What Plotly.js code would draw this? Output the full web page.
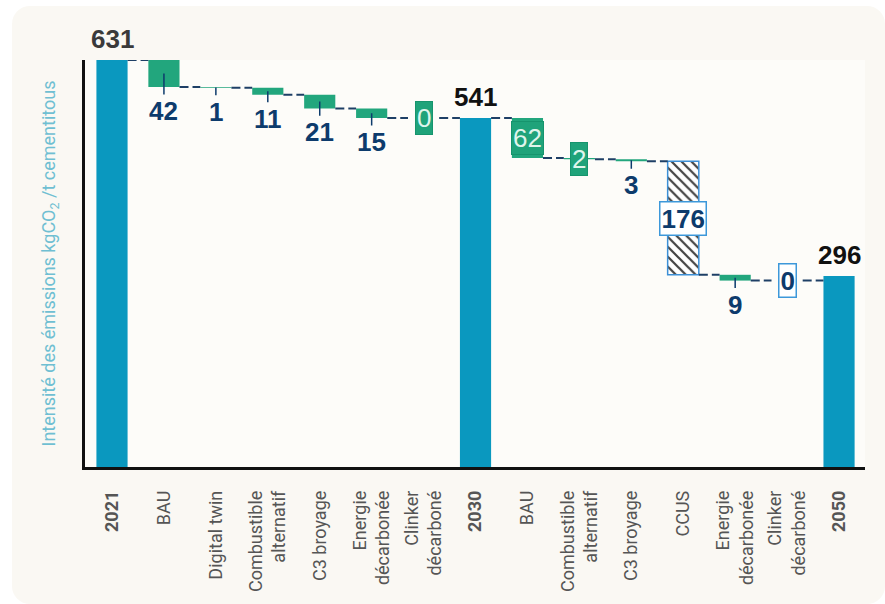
<!DOCTYPE html>
<html lang="fr">
<head>
    <meta charset="UTF-8">
    <title>Intensité des émissions</title>
    <script src="https://cdn.plot.ly/plotly-3.0.1.min.js"></script>
    <style>
        body {
            margin: 0;
            background-color: #ffffff;
        }
        #plot {
            position: absolute;
            left: 12px;
            top: 6px;
            width: 873px;
            height: 598px;
            border-radius: 18px;
            overflow: hidden;
        }
    </style>
</head>
<body>
    <div id="plot"></div>

    <script>
        // Data
        const categories = [
            '2021', 'BAU', 'Digital twin', 'Combustible<br>alternatif', 'C3 broyage',
            'Energie<br>décarbonée', 'Clinker<br>décarboné', '2030', 'BAU',
            'Combustible<br>alternatif', 'C3 broyage', 'CCUS', 'Energie<br>décarbonée',
            'Clinker<br>décarboné', '2050'
        ];
        const values = [631, 42, 1, 11, 21, 15, 0, 541, 62, 2, 3, 176, 9, 0, 296];
        const measures = [
            'total', 'delta', 'delta', 'delta', 'delta', 'delta', 'delta', 'total',
            'delta', 'delta', 'delta', 'delta', 'delta', 'delta', 'total'
        ];

        const TOTAL = '#0a98bf';
        const GREEN = '#22a67d';
        const NAVY = '#0d3b6c';
        const CCUS_IDX = 11;
        const greenBoxed = [6, 8, 9];
        const whiteBoxed = [11, 13];

        const margin = { l: 73, r: 20, t: 54, b: 137 };
        const plotH = 598 - margin.t - margin.b;
        const yMax = 631;
        const pxPerUnit = plotH / yMax;

        // running levels
        const bases = [], heights = [], ends = [];
        let level = 0;
        values.forEach((v, i) => {
            if (measures[i] === 'total') {
                level = v;
                bases.push(0);
            } else {
                level -= v;
                bases.push(level);
            }
            heights.push(v);
            ends.push(level);
        });

        const idx = categories.map((c, i) => i);
        const isTotal = measures.map(m => m === 'total');

        const bars = {
            type: 'bar',
            x: idx,
            y: heights,
            base: bases,
            width: 0.6,
            marker: {
                color: idx.map(i => i === CCUS_IDX ? '#ffffff' : (isTotal[i] ? TOTAL : GREEN)),
                line: {
                    color: idx.map(i => i === CCUS_IDX ? '#3d8fd6' : 'rgba(0,0,0,0)'),
                    width: idx.map(i => i === CCUS_IDX ? 1.5 : 0)
                },
                pattern: {
                    shape: idx.map(i => i === CCUS_IDX ? '\\' : ''),
                    fillmode: 'overlay',
                    fgcolor: idx.map(i => '#1d4f8c'),
                    fgopacity: 1,
                    size: 7,
                    solidity: 0.32
                }
            },
            hoverinfo: 'skip'
        };

        // dashed connectors between bars
        const cx = [], cy = [];
        for (let i = 0; i < values.length - 1; i++) {
            cx.push(i + 0.3, i + 0.7, null);
            cy.push(ends[i], ends[i], null);
        }
        const connectors = {
            type: 'scatter',
            mode: 'lines',
            x: cx,
            y: cy,
            line: { color: '#1e3f66', width: 2, dash: '9px,4px' },
            hoverinfo: 'skip'
        };

        const annotations = [];
        const numFont = { family: 'Liberation Sans, Arial, sans-serif', size: 26, weight: 'bold' };

        values.forEach((v, i) => {
            const mid = bases[i] + heights[i] / 2;
            if (isTotal[i]) {
                annotations.push({
                    x: i, y: v, text: String(v), showarrow: false,
                    yanchor: 'bottom', yshift: 4,
                    font: Object.assign({}, numFont, { color: i === 0 ? '#3a3a3a' : '#111111' })
                });
            } else if (greenBoxed.includes(i)) {
                annotations.push({
                    x: i, y: mid, text: String(v), showarrow: false,
                    bgcolor: '#1fa37a', bordercolor: '#16946d', borderwidth: 1, borderpad: 1,
                    font: { family: 'Liberation Sans, Arial, sans-serif', size: 26, color: '#dff5ec' }
                });
            } else if (whiteBoxed.includes(i)) {
                annotations.push({
                    x: i, y: mid, text: String(v), showarrow: false,
                    bgcolor: '#ffffff', bordercolor: '#3d98da', borderwidth: 1.5, borderpad: 1,
                    font: Object.assign({}, numFont, { color: NAVY })
                });
            } else {
                annotations.push({
                    x: i, y: mid, text: String(v), showarrow: true,
                    arrowhead: 0, arrowwidth: 1.5, arrowcolor: NAVY,
                    ax: 0, ay: heights[i] / 2 * pxPerUnit + 24,
                    font: Object.assign({}, numFont, { color: NAVY })
                });
            }
        });

        const ticktext = categories.map((c, i) => isTotal[i] ? '<b>' + c + '</b>' : c);

        const layout = {
            width: 873,
            height: 598,
            margin: margin,
            paper_bgcolor: '#faf8f3',
            plot_bgcolor: '#fdfcf9',
            showlegend: false,
            bargap: 0,
            font: { family: 'Roboto, sans-serif', color: '#555555' },
            xaxis: {
                range: [-0.52, 14.5],
                tickmode: 'array',
                tickvals: idx,
                ticktext: ticktext,
                tickangle: -90,
                tickfont: { size: 18, color: '#555555' },
                ticks: '',
                ticklabelstandoff: 14,
                showline: true,
                linecolor: '#111111',
                linewidth: 2.5,
                showgrid: false,
                zeroline: false,
                fixedrange: true
            },
            yaxis: {
                range: [0, yMax],
                showline: true,
                linecolor: '#111111',
                linewidth: 3,
                showticklabels: false,
                ticks: '',
                showgrid: false,
                zeroline: false,
                fixedrange: true,
                title: {
                    text: 'Intensité des émissions kgCO<sub>2</sub> /t cementitous',
                    font: { family: 'Roboto, sans-serif', size: 18, color: '#6fbfd2' },
                    standoff: 22
                }
            },
            annotations: annotations
        };

        const config = {
            displayModeBar: false,
            staticPlot: true
        };

        Plotly.newPlot('plot', [bars, connectors], layout, config);
    </script>
</body>
</html>
